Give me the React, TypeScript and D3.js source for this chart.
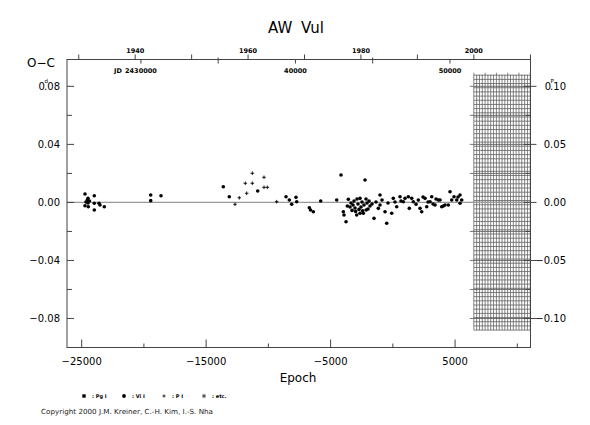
import React from "react";
import * as d3 from "d3";

const W = 590;
const H = 425;

// visual (Vi I) minima: [epoch, O-C in days]
const visual: [number, number][] = [
  [-24734, 0.0058], [-24549, 0.0017], [-24493, 0.0028], [-24493, -0.0004], [-24734, -0.0023],
  [-24468, -0.003], [-23986, 0.0046], [-23986, -0.0006], [-23986, -0.0052], [-23609, -0.0006],
  [-23529, -0.0018], [-23183, -0.003], [-24653, 0.0003], [-24372, 0.001],
  [-19455, 0.0051], [-19455, 0.0012], [-18627, 0.0046],
  [-13621, 0.0108], [-13139, 0.0039], [-10857, 0.0079],
  [-8583, 0.0039], [-8318, 0.0017], [-8125, -0.0013], [-7780, 0.0035], [-7723, 0.0005],
  [-6711, -0.0037], [-6389, -0.0064], [-6614, -0.0052], [-5795, 0.001], [-4510, 0.0017],
  [-4164, 0.0189], [-3577, 0.0021],
  [-3979, -0.0064], [-3923, -0.0087], [-3762, -0.0133], [-3658, -0.0025], [-3441, -0.0032],
  [-3361, -0.0004], [-3200, -0.0018], [-3119, 0.001], [-3039, -0.0039], [-2903, -0.0087],
  [-2879, 0.0023], [-2799, -0.0011], [-2638, -0.0075], [-2638, 0.0028], [-2558, -0.0032],
  [-2478, 0.0003], [-2373, -0.0075], [-2317, -0.0018], [-2236, 0.0154], [-2156, 0.0023],
  [-2076, -0.0004], [-1995, -0.0045], [-1915, 0.001], [-1835, -0.0025], [-1674, -0.0011],
  [-1513, -0.011], [-1352, 0.0003], [-1167, -0.0041], [-1031, 0.0051], [-1031, -0.0018],
  [-870, 0.0017], [-629, -0.0064], [-493, -0.0144], [-389, -0.0004], [-91, -0.0075],
  [37, 0.0028], [174, 0.0003], [310, -0.003], [576, 0.0039], [656, 0.001], [841, 0.0005],
  [978, 0.0028], [1243, 0.0039], [1323, -0.0041], [1516, 0.0028], [1645, 0.0005],
  [1862, -0.0013], [2047, 0.0017], [2184, -0.0041], [2320, -0.0064], [2425, 0.0037],
  [2586, 0.0028], [2722, -0.003], [2827, 0.0003], [2987, 0.0005], [3124, 0.0039],
  [3229, -0.0011], [3390, -0.0018], [3470, 0.0023], [3655, 0.0017], [3791, 0.0017],
  [3928, -0.003], [4056, -0.0025], [4193, -0.0018], [4458, -0.0018], [4594, 0.0074],
  [4731, 0.0017], [4916, 0.0039], [5133, 0.0017], [5398, 0.0051], [5534, 0.0017],
  [5398, -0.0006], [5237, 0.0037],
  [-3280, -0.0055], [-2990, -0.0062], [-2720, -0.0048], [-2430, -0.0058], [-2150, -0.0052],
];

// photoelectric (P I) minima
const photoelectric: [number, number][] = [
  [-12681, -0.0013], [-12337, 0.0032], [-11854, 0.0132], [-11743, 0.0063], [-11291, 0.0201],
  [-11291, 0.0132], [-10351, 0.0173], [-10351, 0.0104], [-10086, 0.0104], [-9330, 0.0005],
];

const epochTicks = [-25000, -20000, -15000, -10000, -5000, 0, 5000, 10000];
const epochLabels = [-25000, -15000, -5000, 5000];
const leftTicks = [-0.08, -0.06, -0.04, -0.02, 0, 0.02, 0.04, 0.06, 0.08];
const leftLabels = [-0.08, -0.04, 0, 0.04, 0.08];
const rightTicks = [-0.1, -0.075, -0.05, -0.025, 0, 0.025, 0.05, 0.075, 0.1];
const rightLabels = [-0.1, -0.05, 0, 0.05, 0.1];
const yearTicks = [1930, 1940, 1950, 1960, 1970, 1980, 1990, 2000];
const yearLabels = [1940, 1960, 1980, 2000];
const jdTicks = [30000, 35000, 40000, 45000, 50000];
const jdLabels = [30000, 40000, 50000];
const legendItems = ["Pg I", "Vi I", "P I", "etc."];

// ephemeris (reduced JD = JD - 2400000)
const T0 = 46304;
const P = 0.8055;
const jdOf = (e: number) => T0 + P * e;
const jdOfYear = (y: number) => 51544.5 + (y - 2000) * 365.25;

const font = "DejaVu Sans, Liberation Sans, sans-serif";

// label like 0.08 with a small unit letter above the decimal point
function unitLabel(v: number, unit: string) {
  const s = Math.abs(v).toFixed(2);
  return (
    <>
      {s[0]}
      <tspan fontSize={5.5} dx={-0.5} dy={-6.5}>{unit}</tspan>
      <tspan dx={-3.8} dy={6.5}>{s.slice(1)}</tspan>
    </>
  );
}

export default function App() {
  const left = 67;
  const right = 530.5;
  const top = 59.5;
  const bottom = 347.5;

  const x = d3.scaleLinear().domain([-26180, 11060]).range([left, right]);
  const xJd = d3.scaleLinear().domain([jdOf(-26180), jdOf(11060)]).range([left, right]);
  const xYear = (y: number) => xJd(jdOfYear(y));
  const y = d3.scaleLinear().domain([-0.1, 0.0985]).range([bottom, top]);
  const yR = d3.scaleLinear().domain([-0.125, 0.123125]).range([bottom, top]);

  const fmt = (v: number) => (v < 0 ? "\u2212" : "") + Math.abs(v).toFixed(2);

  // hatched region: year 2000 .. 2010, right-axis +-0.11
  const hx0 = xYear(2000);
  const hx1 = right;
  const hy0 = yR(0.11);
  const hy1 = yR(-0.11);
  const hCols = d3.range(2000, 2010.01, 0.5);
  const hRows = d3.range(-0.11, 0.1101, 0.0036);

  const star = d3.symbol(d3.symbolAsterisk, 14)() as string;

  return (
    <svg width={W} height={H} style={{ position: "absolute", left: 0, top: 0, background: "#fff" }}>
      <text x={296} y={33} textAnchor="middle" fontFamily={font} fontSize={15} wordSpacing={4}>
        AW Vul
      </text>
      <text x={27} y={67} fontFamily={font} fontSize={12}>
        O{"\u2212"}C
      </text>

      {/* hatch */}
      <g stroke="#5a5a5a" strokeWidth={0.75}>
        {hCols.map((c, i) => (
          <line key={"hc" + i} x1={xYear(c)} x2={xYear(c)} y1={hy0 - (i % 4 === 0 ? 2 : 0)} y2={hy1} />
        ))}
        {hRows.map((r, i) => (
          <line key={"hr" + i} x1={hx0} x2={hx1} y1={yR(r)} y2={yR(r)} />
        ))}
      </g>
      <g stroke="#555" strokeWidth={0.8}>
        {rightTicks.map((t) => (
          <line key={"rl" + t} x1={hx0 - 4} x2={hx1} y1={yR(t)} y2={yR(t)} />
        ))}
      </g>

      {/* zero line */}
      <line x1={left} x2={right} y1={y(0)} y2={y(0)} stroke="#999" strokeWidth={1.2} />

      {/* frame */}
      <rect x={left} y={top} width={right - left} height={bottom - top} fill="none" stroke="#444" strokeWidth={1} />

      {/* left axis */}
      {leftTicks.map((t, i) => (
        <line key={"lt" + i} x1={left} x2={left + (leftLabels.includes(t) ? 7 : 5)} y1={y(t)} y2={y(t)} stroke="#444" />
      ))}
      {leftLabels.map((t) => (
        <text key={"ll" + t} x={60} y={y(t) + 3.6} textAnchor="end" fontFamily={font} fontSize={10}>
          {t === 0.08 ? unitLabel(t, "d") : fmt(t)}
        </text>
      ))}

      {/* right axis */}
      {rightTicks.map((t, i) => (
        <line
          key={"rt" + i}
          x1={right - (rightLabels.includes(t) ? 7 : 5)}
          x2={right + (rightLabels.includes(t) ? 6 : 0)}
          y1={yR(t)}
          y2={yR(t)}
          stroke="#444"
        />
      ))}
      {rightLabels.map((t) => (
        <text key={"rl" + t} x={566} y={yR(t) + 3.6} textAnchor="end" fontFamily={font} fontSize={10}>
          {t === 0.1 ? unitLabel(t, "P") : fmt(t)}
        </text>
      ))}

      {/* bottom axis */}
      {epochTicks.map((t) => (
        <line key={"bt" + t} x1={x(t)} x2={x(t)} y1={bottom} y2={bottom - (epochLabels.includes(t) ? 8 : 4)} stroke="#444" />
      ))}
      {epochLabels.map((t) => (
        <text key={"bl" + t} x={x(t)} y={365} textAnchor="middle" fontFamily={font} fontSize={10}>
          {t < 0 ? "\u2212" + Math.abs(t) : t}
        </text>
      ))}
      <text x={298} y={382} textAnchor="middle" fontFamily={font} fontSize={12}>
        Epoch
      </text>

      {/* top axis: years above, JD below */}
      {yearTicks.map((t) => (
        <line key={"yt" + t} x1={xYear(t)} x2={xYear(t)} y1={top} y2={top - 5} stroke="#444" />
      ))}
      {yearLabels.map((t) => (
        <text key={"yl" + t} x={xYear(t)} y={52.5} textAnchor="middle" fontFamily={font} fontSize={6.5} fontWeight="bold">
          {t}
        </text>
      ))}
      {jdTicks.map((t) => (
        <line key={"jt" + t} x1={xJd(t)} x2={xJd(t)} y1={top - (t % 10000 ? 2 : 0)} y2={top + 4} stroke="#444" />
      ))}
      {jdLabels.map((t, i) => (
        <text key={"jl" + t} x={xJd(t)} y={73} textAnchor="middle" fontFamily={font} fontSize={6.5} fontWeight="bold">
          {i === 0 ? "24" + t : t}
        </text>
      ))}
      <text x={xJd(30000) - 19} y={73} textAnchor="end" fontFamily={font} fontSize={6.5} fontWeight="bold">
        JD
      </text>
      <line x1={right} x2={right} y1={top} y2={top - 5} stroke="#444" />

      {/* data */}
      <g fill="#000">
        {visual.map((d, i) => (
          <circle key={"v" + i} cx={x(d[0])} cy={y(d[1])} r={1.8} />
        ))}
      </g>
      <g stroke="#000" strokeWidth={0.9}>
        {photoelectric.map((d, i) => (
          <g key={"p" + i} transform={`translate(${x(d[0])},${y(d[1])})`}>
            <line x1={-1.8} x2={1.8} y1={0} y2={0} />
            <line x1={0} x2={0} y1={-1.8} y2={1.8} />
          </g>
        ))}
      </g>

      {/* legend */}
      {legendItems.map((lab, i) => {
        const lx = 84 + i * 40;
        const ly = 396;
        return (
          <g key={lab}>
            {i === 0 && <rect x={lx - 1.7} y={ly - 1.7} width={3.4} height={3.4} fill="#000" />}
            {i === 1 && <circle cx={lx} cy={ly} r={1.9} fill="#000" />}
            {i === 2 && (
              <g stroke="#000" strokeWidth={0.8}>
                <line x1={lx - 1.6} x2={lx + 1.6} y1={ly} y2={ly} />
                <line x1={lx} x2={lx} y1={ly - 1.6} y2={ly + 1.6} />
              </g>
            )}
            {i === 3 && <path d={star} transform={`translate(${lx},${ly})`} stroke="#000" strokeWidth={0.6} />}
            <text x={lx + 8} y={ly + 2} fontFamily={font} fontSize={5} fontWeight="bold">
              {":  " + lab}
            </text>
          </g>
        );
      })}

      <text x={41} y={414} fontFamily={font} fontSize={7} textLength={172} lengthAdjust="spacingAndGlyphs" fill="#222">
        Copyright 2000 J.M. Kreiner, C.-H. Kim, I.-S. Nha
      </text>
    </svg>
  );
}
